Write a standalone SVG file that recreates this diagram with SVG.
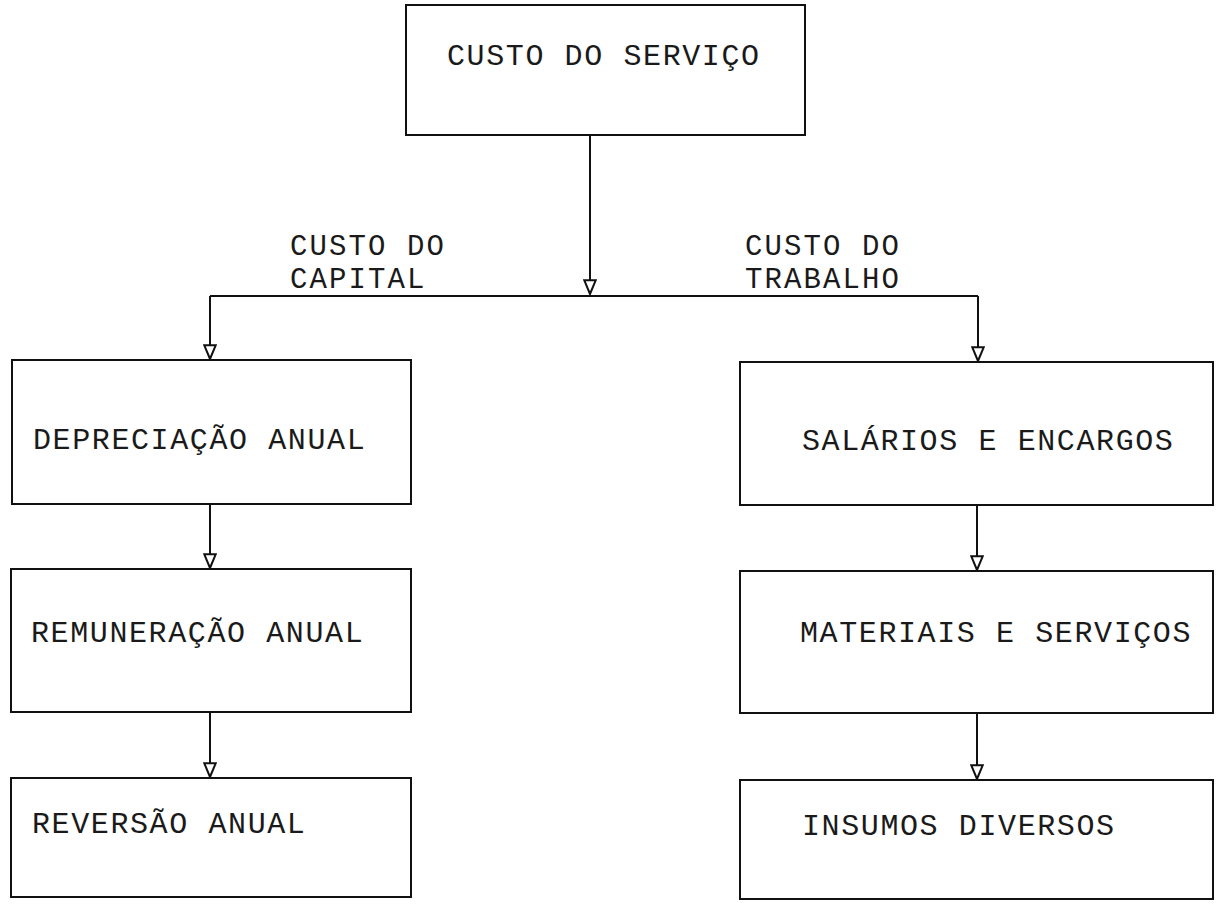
<svg xmlns="http://www.w3.org/2000/svg" width="1217" height="914" viewBox="0 0 1217 914">
<style>
.box{fill:none;stroke:#111;stroke-width:2}
.t{font-family:"Liberation Mono","DejaVu Sans Mono",monospace;font-size:30px;letter-spacing:1.6px;fill:#1a1a1a}
.l{font-size:29px;letter-spacing:2.1px}
.c{fill:none;stroke:#111;stroke-width:2}
</style>
<defs>
<marker id="ah" markerUnits="userSpaceOnUse" markerWidth="14" markerHeight="16" refX="6" refY="13" orient="0" viewBox="0 0 12 14">
<path d="M1,1 L11,1 L6,13 Z" fill="#fff" stroke="#111" stroke-width="1.8"/>
</marker>
</defs>
<rect width="1217" height="914" fill="#fff"/>
<g id="connectors">
<path class="c" d="M590,135 V294" marker-end="url(#ah)"/>
<path class="c" d="M210,296 H978"/>
<path class="c" d="M210,296 V359" marker-end="url(#ah)"/>
<path class="c" d="M978,296 V361" marker-end="url(#ah)"/>
<path class="c" d="M210,504 V568" marker-end="url(#ah)"/>
<path class="c" d="M210,712 V777" marker-end="url(#ah)"/>
<path class="c" d="M977,505 V570" marker-end="url(#ah)"/>
<path class="c" d="M977,713 V779" marker-end="url(#ah)"/>
</g>
<g id="custo-servico">
<rect class="box" x="406" y="5" width="399" height="130"/>
<text class="t" x="447" y="65">CUSTO DO SERVIÇO</text>
</g>
<g id="label-capital">
<text class="t l" x="290" y="255">CUSTO DO</text>
<text class="t l" x="290" y="288">CAPITAL</text>
</g>
<g id="label-trabalho">
<text class="t l" x="745" y="255">CUSTO DO</text>
<text class="t l" x="745" y="288">TRABALHO</text>
</g>
<g id="depreciacao">
<rect class="box" x="12" y="360" width="399" height="144"/>
<text class="t" x="33" y="449">DEPRECIAÇÃO ANUAL</text>
</g>
<g id="remuneracao">
<rect class="box" x="11" y="569" width="400" height="143"/>
<text class="t" x="31" y="642">REMUNERAÇÃO ANUAL</text>
</g>
<g id="reversao">
<rect class="box" x="11" y="778" width="400" height="119"/>
<text class="t" x="32" y="833">REVERSÃO ANUAL</text>
</g>
<g id="salarios">
<rect class="box" x="740" y="362" width="473" height="143"/>
<text class="t" x="802" y="450">SALÁRIOS E ENCARGOS</text>
</g>
<g id="materiais">
<rect class="box" x="740" y="571" width="473" height="142"/>
<text class="t" x="800" y="642">MATERIAIS E SERVIÇOS</text>
</g>
<g id="insumos">
<rect class="box" x="740" y="780" width="473" height="119"/>
<text class="t" x="802" y="835">INSUMOS DIVERSOS</text>
</g>
</svg>
